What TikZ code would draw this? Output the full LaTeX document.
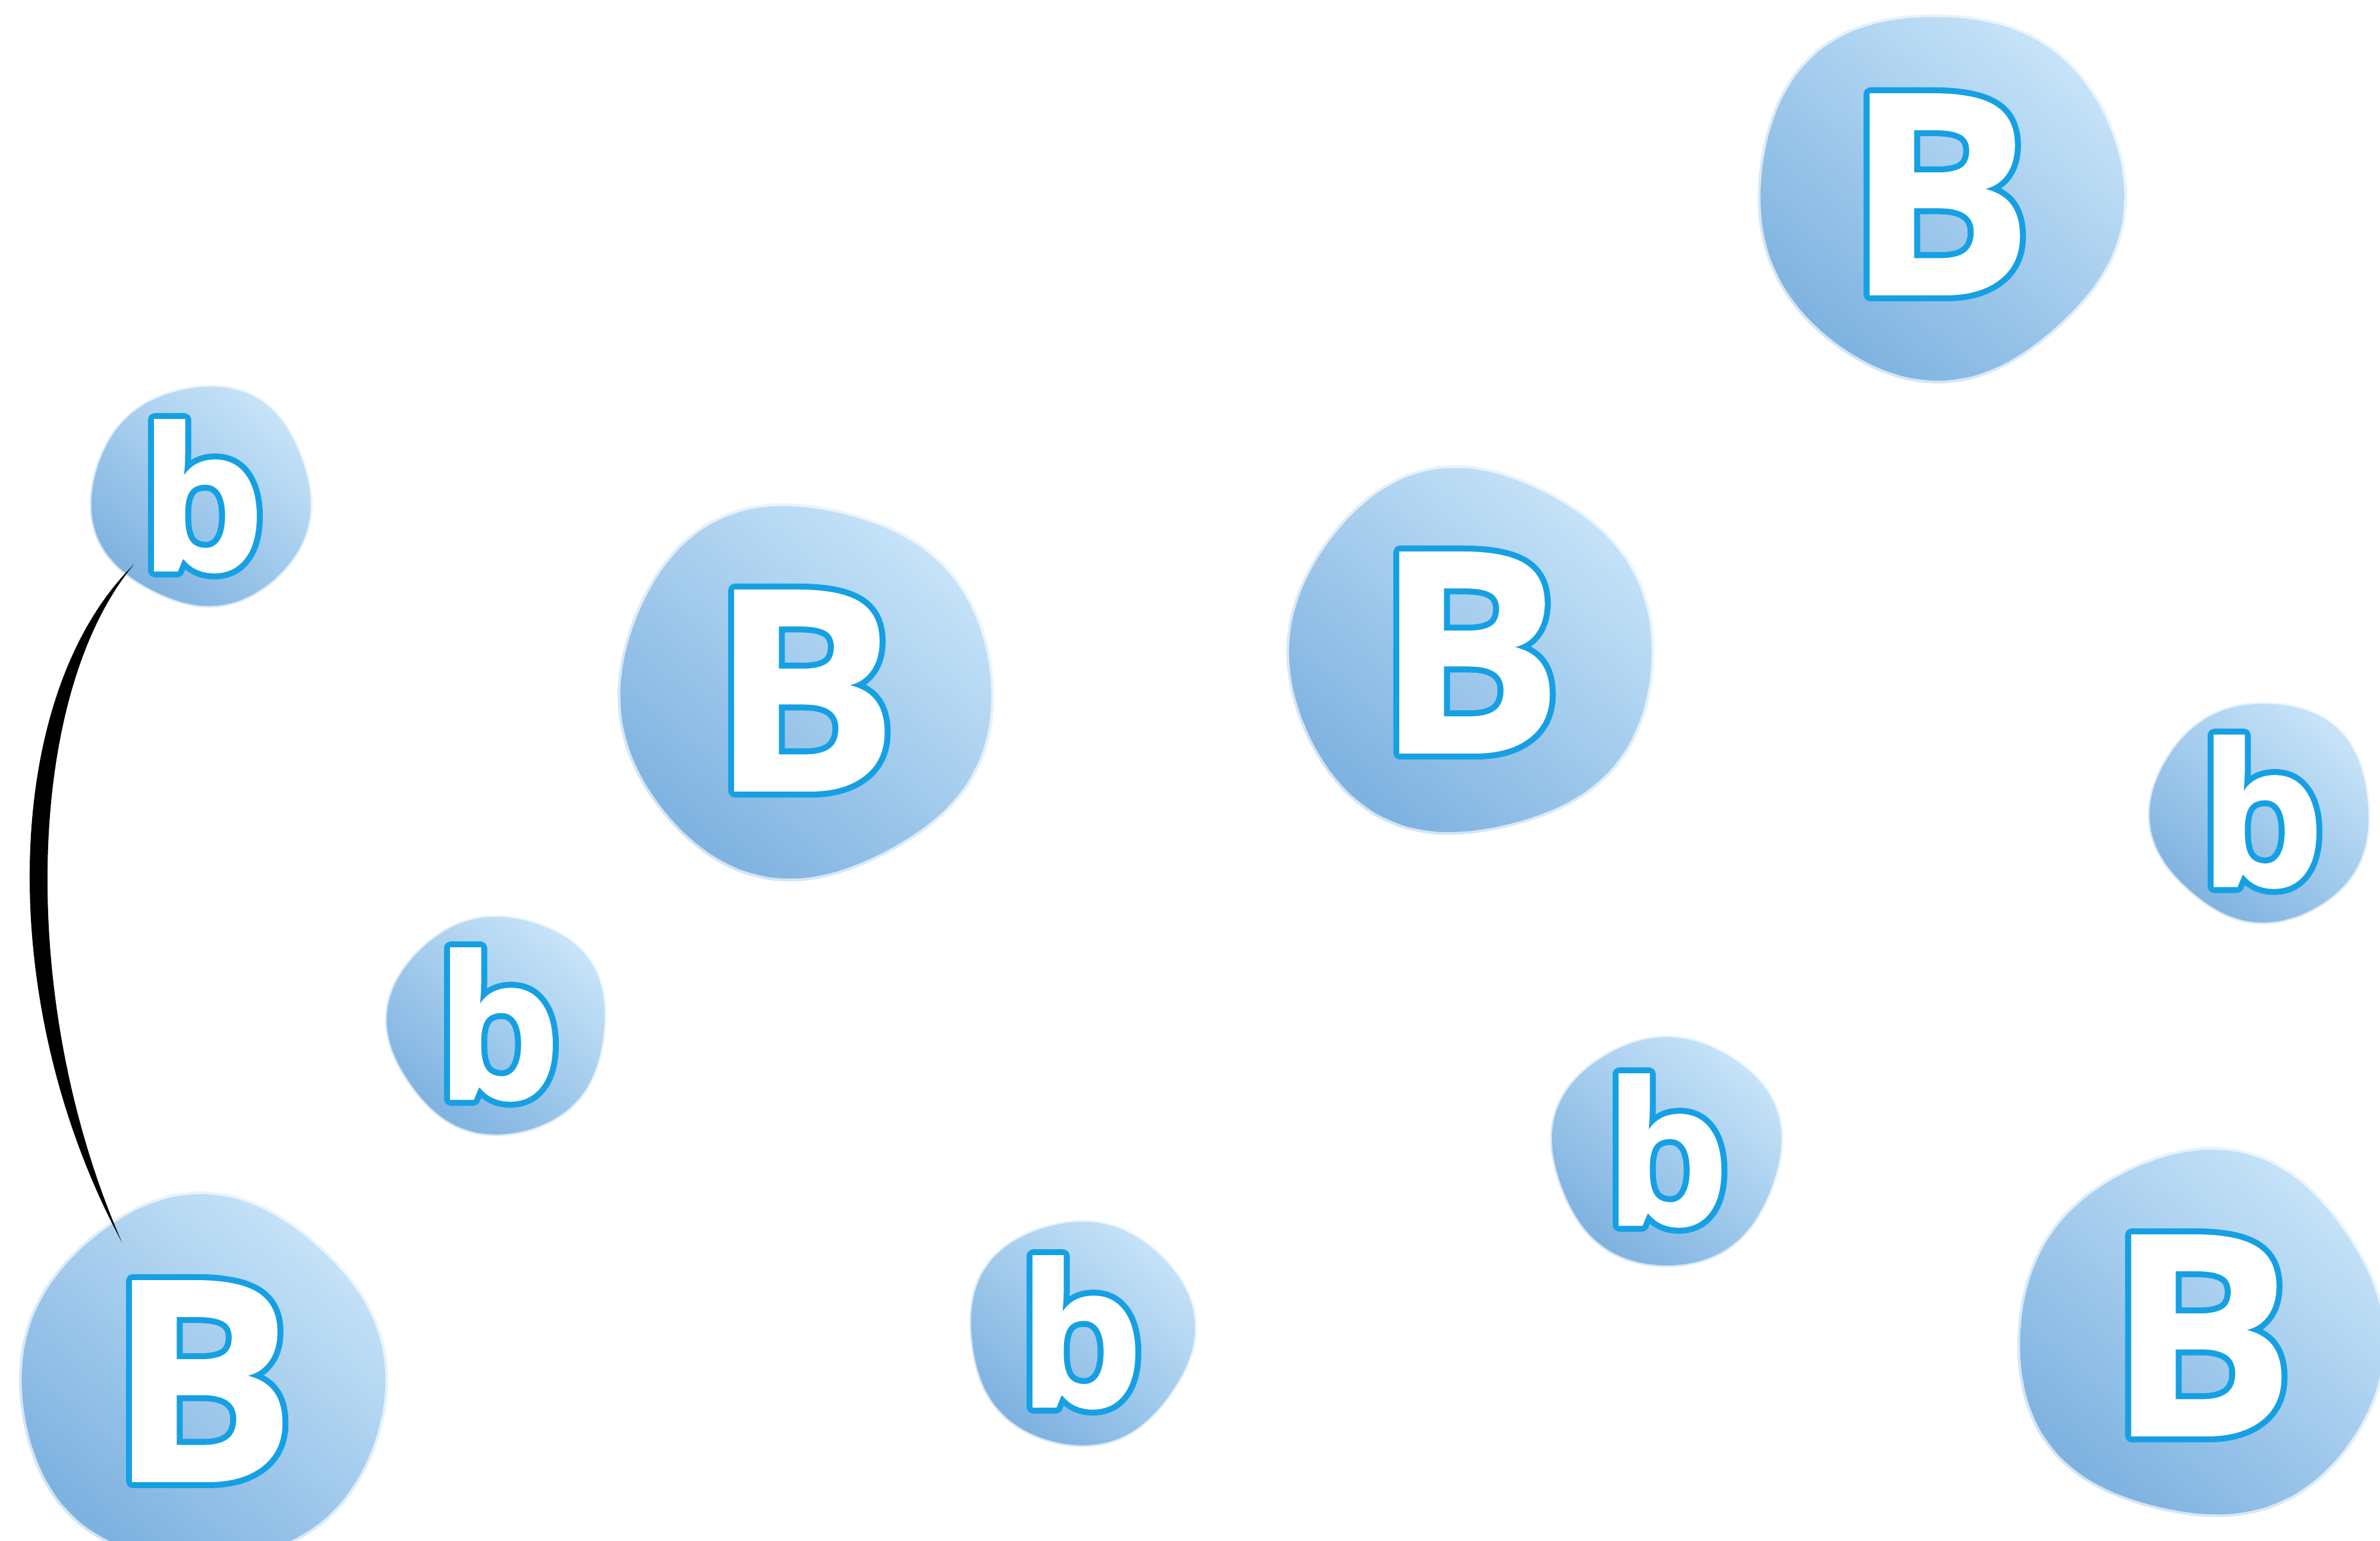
\documentclass[tikz,border=0pt]{standalone}
\usepackage{fontspec}
\setmainfont{Open Sans}[BoldFeatures={FakeBold=0.8}]
\usepackage{tikz}
\usetikzlibrary{calc}
\usetikzlibrary{backgrounds}
\usepackage{xcolor}

\definecolor{bloblight}{RGB}{198,227,248}
\definecolor{blobmid}{RGB}{148,196,236}
\definecolor{blobdark}{RGB}{126,178,224}
\definecolor{rim}{RGB}{22,160,228}

\newlength\rimx
\newlength\rimy
\newcommand\rimtext[1]{%
  \foreach \ang in {0,15,...,345}{%
    \pgfmathsetlength\rimx{1.0mm*cos(\ang)}%
    \pgfmathsetlength\rimy{1.0mm*sin(\ang)}%
    \rlap{\hspace*{\rimx}\raisebox{\rimy}{\textcolor{rim}{#1}}}}%
  \textcolor{white}{#1}}

\begin{document}
\begin{tikzpicture}[
  bigletter/.style={circle, inner sep=0pt, minimum size=6.1cm, font=\bfseries\fontsize{134}{134}\selectfont},
  smallletter/.style={circle, inner sep=0pt, minimum size=3.7cm, font=\bfseries\fontsize{95}{95}\selectfont},
  blob/.style={top color=bloblight, middle color=blobmid, bottom color=blobdark, shading angle=-40},
  halo/.style={blob, opacity=0.35},
  link/.style={fill=black}
]
\useasboundingbox (0,0) rectangle (40.04,25.92);

% Capital B letters
\foreach \nm/\x/\y in {bigTR/32.63/22.65, bigL/13.53/14.30, bigC/24.72/14.94,
                       bigBL/3.40/2.68, bigBR/37.03/3.45}
  \node[bigletter] (\nm) at (\x,\y) {\rimtext{B}};

% Small b letters
\foreach \nm/\x/\y in {smallL/3.40/17.57, smallR/38.05/12.26, smallM/8.38/8.68,
                       smallQ/28.04/6.56, smallS/18.18/3.50}
  \node[smallletter] (\nm) at (\x,\y) {\rimtext{b}};

% Watercolour blobs behind the letters
\begin{scope}[on background layer]
  \foreach \nm/\r [count=\i] in {bigTR/3.06, bigL/3.12, bigC/3.05, bigBL/3.06, bigBR/3.06,
                      smallL/1.84, smallR/1.84, smallM/1.83, smallQ/1.92, smallS/1.88}
  {
    \path[halo, shift={(\nm.center)}] plot[smooth cycle, variable=\t, domain=0:350, samples=36]
      (\t:{1.015*\r*(1+0.018*sin(3*\t+40*\i)+0.012*cos(5*\t+70*\i))});
    \path[blob, shift={(\nm.center)}] plot[smooth cycle, variable=\t, domain=0:350, samples=36]
      (\t:{\r*(1+0.018*sin(3*\t+40*\i)+0.012*cos(5*\t+70*\i))});
  }
\end{scope}

% Tapered stroke joining b and B
\coordinate (linkTop) at ($(smallL.center)+(-135:1.62)$);
\coordinate (linkBot) at ($(bigBL.center)+(120:2.69)$);
\fill[link] (linkTop) .. controls (0.0,14.2) and (-0.1,9.0) .. (linkBot)
  .. controls (0.3,9.0) and (0.4,14.2) .. (linkTop) -- cycle;

\end{tikzpicture}
\end{document}
